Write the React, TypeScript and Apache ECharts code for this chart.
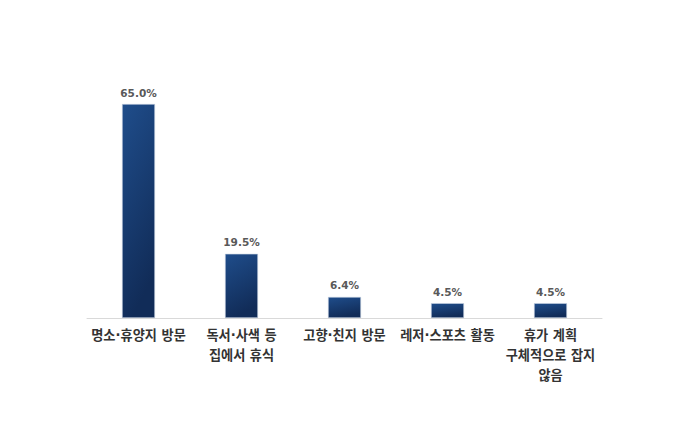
import React, { useEffect, useRef } from 'react'
import * as echarts from 'echarts'

const categories = [
  '명소·휴양지 방문',
  '독서·사색 등\n집에서 휴식',
  '고향·친지 방문',
  '레저·스포츠 활동',
  '휴가 계획\n구체적으로 잡지\n않음',
]
const values = [65.0, 19.5, 6.4, 4.5, 4.5]

export default function App(): JSX.Element {
  const chartRef = useRef<HTMLDivElement>(null)

  useEffect(() => {
    if (!chartRef.current) return
    const chart = echarts.init(chartRef.current, null, { renderer: 'svg' })

    chart.setOption({
      animation: false,
      backgroundColor: '#ffffff',
      grid: { left: 87, right: 79, top: 104, bottom: 124 },
      xAxis: {
        type: 'category',
        data: categories,
        axisLine: { lineStyle: { color: '#d9d9d9', width: 1 } },
        axisTick: { show: false },
        axisLabel: {
          interval: 0,
          color: '#333333',
          fontSize: 13.2,
          fontWeight: 'bold',
          fontFamily: 'DejaVu Sans, Noto Sans CJK KR',
          lineHeight: 20,
          margin: 7,
        },
      },
      yAxis: {
        type: 'value',
        min: 0,
        max: 65,
        show: false,
        splitLine: { show: false },
      },
      series: [
        {
          type: 'bar',
          data: values,
          barWidth: 33,
          itemStyle: {
            color: new echarts.graphic.LinearGradient(0, 0, 0.3, 1, [
              { offset: 0, color: '#1f4d8b' },
              { offset: 1, color: '#112c58' },
            ]),
            borderColor: '#c9d3e2',
            borderWidth: 0.6,
          },
          label: {
            show: true,
            position: 'top',
            distance: 6,
            formatter: (p: any) => p.value.toFixed(1) + '%',
            color: '#595959',
            fontSize: 10.5,
            fontWeight: 'bold',
            fontFamily: 'DejaVu Sans, sans-serif',
          },
        },
      ],
    })

    return () => {
      chart.dispose()
    }
  }, [])

  return <div ref={chartRef} style={{ width: 681, height: 442, margin: -8 }} />
}
